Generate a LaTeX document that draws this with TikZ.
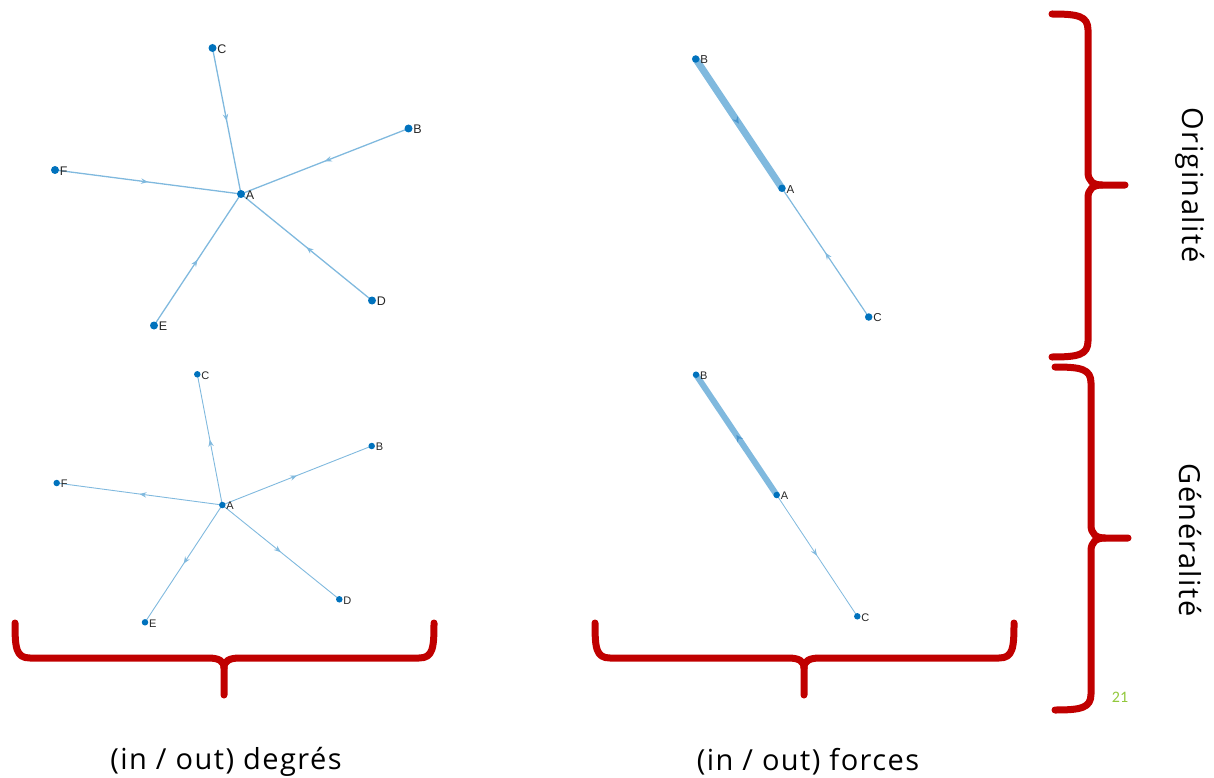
\documentclass[tikz,border=0pt]{standalone}
\usepackage{fontspec}
\setmainfont{Open Sans}
\newfontfamily\labfont{Liberation Sans}
\newfontfamily\bigfont[LetterSpace=5]{Open Sans}
\newfontfamily\numfont{Carlito}
\usetikzlibrary{arrows.meta,decorations.markings}
\pgfdeclarelayer{bg}
\pgfsetlayers{bg,main}
\definecolor{nodeblue}{RGB}{0,114,189}
\definecolor{edgeblue}{RGB}{128,185,222}
\definecolor{arrdark}{RGB}{75,150,205}
\definecolor{bracered}{RGB}{192,0,0}
\definecolor{numgreen}{RGB}{146,200,60}
\definecolor{labgray}{RGB}{38,38,38}
\tikzset{
  dotbig/.style={circle,fill=nodeblue,inner sep=0pt,minimum size=8pt},
  dotsmall/.style={circle,fill=nodeblue,inner sep=0pt,minimum size=6.5pt},
  lblbig/.style={font=\labfont\fontsize{12.5}{14}\selectfont,text=labgray,inner sep=0.5pt,label distance=0pt,yshift=-1pt},
  lblmid/.style={font=\labfont\fontsize{11.5}{13}\selectfont,text=labgray,inner sep=0.5pt,label distance=0pt,yshift=-1pt},
  lblsmall/.style={font=\labfont\fontsize{11}{13}\selectfont,text=labgray,inner sep=0.5pt,label distance=0pt,yshift=-1pt},
  edgeline/.style={draw=edgeblue,line width=#1},
  midarr/.style={postaction={decorate,decoration={markings,mark=at position 0.5 with {\arrow[color=edgeblue]{Stealth[length=7pt,width=5.5pt,inset=2.5pt]}}}}},
  midarrdark/.style={postaction={decorate,decoration={markings,mark=at position 0.5 with {\arrow[color=arrdark]{Stealth[length=7pt,width=6.5pt,inset=2.5pt]}}}}},
  brace/.style={draw=bracered,line width=7pt,line cap=round,line join=round},
  bigtext/.style={font=\bigfont\fontsize{29}{34}\selectfont,text=black,inner sep=0pt},
  pagenum/.style={font=\numfont\fontsize{16}{19}\selectfont,text=numgreen,inner sep=0pt}
}
\begin{document}
\begin{tikzpicture}[x=1pt,y=-1pt]
\useasboundingbox (0,0) rectangle (1214,778);

% ---------- top-left graph (in-degree) ----------
\node[dotbig,label={[lblbig]right:A}] (tlA) at (241,194) {};
\node[dotbig,label={[lblbig]right:B}] (tlB) at (408.5,128.5) {};
\node[dotbig,label={[lblbig]right:C}] (tlC) at (212.5,48) {};
\node[dotbig,label={[lblbig]right:D}] (tlD) at (372,300.5) {};
\node[dotbig,label={[lblbig]right:E}] (tlE) at (154,325.5) {};
\node[dotbig,label={[lblbig]right:F}] (tlF) at (55,170) {};
\begin{pgfonlayer}{bg}
\draw[edgeline=1.3pt,midarr] (tlC.center) -- (tlA.center);
\draw[edgeline=1.3pt,midarr] (tlB.center) -- (tlA.center);
\draw[edgeline=1.3pt,midarr] (tlF.center) -- (tlA.center);
\draw[edgeline=1.3pt,midarr] (tlD.center) -- (tlA.center);
\draw[edgeline=1.3pt,midarr] (tlE.center) -- (tlA.center);
\end{pgfonlayer}

% ---------- bottom-left graph (out-degree) ----------
\node[dotsmall,label={[lblsmall]right:A}] (blA) at (222.3,505) {};
\node[dotsmall,label={[lblsmall]right:B}] (blB) at (371.7,446) {};
\node[dotsmall,label={[lblsmall]right:C}] (blC) at (197.3,374.3) {};
\node[dotsmall,label={[lblsmall]right:D}] (blD) at (339.3,599.3) {};
\node[dotsmall,label={[lblsmall]right:E}] (blE) at (145,622.3) {};
\node[dotsmall,label={[lblsmall]right:F}] (blF) at (56.7,483) {};
\begin{pgfonlayer}{bg}
\draw[edgeline=0.9pt,midarr] (blA.center) -- (blC.center);
\draw[edgeline=0.9pt,midarr] (blA.center) -- (blB.center);
\draw[edgeline=0.9pt,midarr] (blA.center) -- (blF.center);
\draw[edgeline=0.9pt,midarr] (blA.center) -- (blD.center);
\draw[edgeline=0.9pt,midarr] (blA.center) -- (blE.center);
\end{pgfonlayer}

% ---------- top-right graph (in-strength) ----------
\node[dotbig,minimum size=7.5pt,label={[lblmid]right:A}] (trA) at (782,188.3) {};
\node[dotbig,minimum size=7.5pt,label={[lblmid]right:B}] (trB) at (695.7,59) {};
\node[dotbig,minimum size=7.5pt,label={[lblmid]right:C}] (trC) at (868.7,317) {};
\begin{pgfonlayer}{bg}
\draw[edgeline=7pt,midarrdark] (trB.center) -- (trA.center);
\draw[edgeline=1.2pt,midarr] (trC.center) -- (trA.center);
\end{pgfonlayer}

% ---------- bottom-right graph (out-strength) ----------
\node[dotsmall,label={[lblsmall]right:A}] (brA) at (776.7,495) {};
\node[dotsmall,label={[lblsmall]right:B}] (brB) at (696,374.7) {};
\node[dotsmall,label={[lblsmall]right:C}] (brC) at (857.3,616.3) {};
\begin{pgfonlayer}{bg}
\draw[edgeline=6pt,midarrdark] (brA.center) -- (brB.center);
\draw[edgeline=0.8pt,midarr] (brA.center) -- (brC.center);
\end{pgfonlayer}

% ---------- bottom braces ----------
\draw[brace] (15,623) .. controls (15,648) and (16,658) .. (30,658) -- (208,658) .. controls (219,658) and (224,661) .. (224,668) -- (224,695);
\draw[brace] (434,623) .. controls (434,648) and (433,658) .. (419,658) -- (240,658) .. controls (229,658) and (224,661) .. (224,668);
\begin{scope}[shift={(580,0)}]
\draw[brace] (15,623) .. controls (15,648) and (16,658) .. (30,658) -- (208,658) .. controls (219,658) and (224,661) .. (224,668) -- (224,695);
\draw[brace] (434,623) .. controls (434,648) and (433,658) .. (419,658) -- (240,658) .. controls (229,658) and (224,661) .. (224,668);
\end{scope}

% ---------- right braces ----------
\draw[brace] (1052,14) .. controls (1078,14) and (1088,16) .. (1088,30) -- (1088,172) .. controls (1088,181) and (1093,185) .. (1102,185) -- (1125,185);
\draw[brace] (1052,357) .. controls (1078,357) and (1088,355) .. (1088,341) -- (1088,198) .. controls (1088,189) and (1093,185) .. (1102,185);
\begin{scope}[shift={(3,353)}]
\draw[brace] (1052,14) .. controls (1078,14) and (1088,16) .. (1088,30) -- (1088,172) .. controls (1088,181) and (1093,185) .. (1102,185) -- (1125,185);
\draw[brace] (1052,357) .. controls (1078,357) and (1088,355) .. (1088,341) -- (1088,198) .. controls (1088,189) and (1093,185) .. (1102,185);
\end{scope}

% ---------- texts ----------
\node[bigtext] (degres) at (226,762) {(in / out) degrés};
\node[bigtext] (forces) at (808,762) {(in / out) forces};
\node[bigtext,rotate=-90] (orig) at (1190,185) {Originalité};
\node[bigtext,rotate=-90] (gen) at (1190,540) {Généralité};
\node[pagenum] (num) at (1120,697) {21};
\end{tikzpicture}
\end{document}
